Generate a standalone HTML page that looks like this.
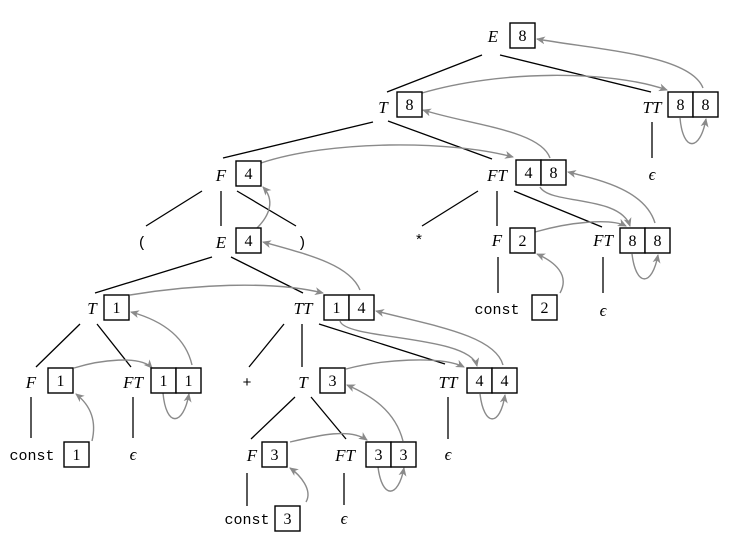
<!DOCTYPE html>
<html><head><meta charset="utf-8"><style>
html,body{margin:0;padding:0;background:#fff;}
svg{display:block;}
.l{font-family:"Liberation Serif",serif;font-style:italic;font-size:17px;text-anchor:middle;}
.n{font-family:"Liberation Serif",serif;font-size:16px;text-anchor:middle;}
.m{font-family:"Liberation Mono",monospace;font-size:15px;text-anchor:middle;}
.b{fill:#fff;stroke:#000;stroke-width:1.4;}
.t{stroke:#000;stroke-width:1.3;}
.a{fill:none;stroke:#8a8a8a;stroke-width:1.4;marker-end:url(#ah);}
</style></head><body>
<svg width="729" height="536" viewBox="0 0 729 536" xmlns="http://www.w3.org/2000/svg">
<defs><marker id="ah" markerWidth="10" markerHeight="8" refX="8" refY="4" orient="auto" markerUnits="userSpaceOnUse"><path d="M0,0 L9,4 L0,8 L2.5,4 Z" fill="#8a8a8a"/></marker></defs>
<g class="t">
<line x1="482" y1="55" x2="387" y2="92"/><line x1="500" y1="55" x2="651" y2="92"/>
<line x1="373" y1="122" x2="223" y2="158"/><line x1="388" y1="121" x2="492" y2="159"/>
<line x1="652" y1="122" x2="652" y2="158"/>
<line x1="478" y1="191" x2="422" y2="226"/><line x1="497" y1="191" x2="497" y2="226"/><line x1="514" y1="191" x2="602" y2="227"/>
<line x1="498" y1="257" x2="498" y2="293"/><line x1="603" y1="257" x2="603" y2="293"/>
<line x1="202" y1="191" x2="146" y2="226"/><line x1="221" y1="191" x2="221" y2="226"/><line x1="237" y1="191" x2="296" y2="226"/>
<line x1="212" y1="257" x2="95" y2="293"/><line x1="231" y1="257" x2="303" y2="293"/>
<line x1="80" y1="324" x2="36" y2="367"/><line x1="97" y1="324" x2="131" y2="367"/>
<line x1="284" y1="324" x2="249" y2="367"/><line x1="302" y1="324" x2="302" y2="367"/><line x1="319" y1="324" x2="445" y2="364"/>
<line x1="31" y1="397" x2="31" y2="438"/><line x1="133" y1="397" x2="133" y2="438"/>
<line x1="295" y1="397" x2="251" y2="439"/><line x1="311" y1="397" x2="346" y2="439"/>
<line x1="448" y1="397" x2="448" y2="439"/>
<line x1="247" y1="473" x2="247" y2="506"/><line x1="344" y1="473" x2="344" y2="505"/>
</g>
<g class="a">
<path d="M703,88 C690,55 600,50 537,39"/>
<path d="M422,93 C500,70 610,70 667,90"/>
<path d="M680,118 C683,152 700,152 706,119"/>
<path d="M550,158 C540,130 470,125 423,110"/>
<path d="M261,163 C330,140 450,140 513,157"/>
<path d="M540,187 C550,205 620,195 630,226"/>
<path d="M535,232 C570,222 610,218 626,226"/>
<path d="M655,223 C645,190 600,180 568,172"/>
<path d="M632,254 C636,287 652,287 658,255"/>
<path d="M560,293 C570,275 555,262 537,254"/>
<path d="M257,228 C270,215 275,200 263,187"/>
<path d="M360,290 C350,265 310,255 263,242"/>
<path d="M130,295 C190,285 270,280 323,293"/>
<path d="M74,368 C100,360 140,355 152,368"/>
<path d="M192,365 C185,335 160,320 131,312"/>
<path d="M163,393 C166,427 183,427 189,394"/>
<path d="M92,441 C97,420 90,405 76,394"/>
<path d="M340,321 C345,340 470,335 477,366"/>
<path d="M346,369 C380,360 440,355 464,367"/>
<path d="M503,365 C495,335 430,325 376,311"/>
<path d="M480,394 C484,427 500,427 505,395"/>
<path d="M403,441 C395,410 370,395 347,385"/>
<path d="M290,442 C320,435 350,428 367,440"/>
<path d="M378,467 C382,499 398,499 404,468"/>
<path d="M306,502 C313,490 300,475 290,468"/>
</g>
<g>
<rect class="b" x="510" y="23" width="25" height="25"/>
<rect class="b" x="397" y="92" width="25" height="25"/>
<rect class="b" x="668" y="92" width="25" height="25"/><rect class="b" x="693" y="92" width="25" height="25"/>
<rect class="b" x="516" y="160" width="25" height="25"/><rect class="b" x="541" y="160" width="25" height="25"/>
<rect class="b" x="510" y="228" width="25" height="25"/>
<rect class="b" x="620" y="228" width="25" height="25"/><rect class="b" x="645" y="228" width="25" height="25"/>
<rect class="b" x="532" y="295" width="25" height="25"/>
<rect class="b" x="236" y="161" width="25" height="25"/>
<rect class="b" x="236" y="228" width="25" height="25"/>
<rect class="b" x="104" y="295" width="25" height="25"/>
<rect class="b" x="324" y="295" width="25" height="25"/><rect class="b" x="349" y="295" width="25" height="25"/>
<rect class="b" x="48" y="368" width="25" height="25"/>
<rect class="b" x="151" y="368" width="25" height="25"/><rect class="b" x="176" y="368" width="25" height="25"/>
<rect class="b" x="320" y="368" width="25" height="25"/>
<rect class="b" x="467" y="368" width="25" height="25"/><rect class="b" x="492" y="368" width="25" height="25"/>
<rect class="b" x="64" y="442" width="25" height="25"/>
<rect class="b" x="262" y="442" width="25" height="25"/>
<rect class="b" x="366" y="442" width="25" height="25"/><rect class="b" x="391" y="442" width="25" height="25"/>
<rect class="b" x="275" y="506" width="25" height="25"/>
</g>
<g class="n">
<text x="522.5" y="41">8</text><text x="409.5" y="110">8</text>
<text x="680.5" y="110">8</text><text x="705.5" y="110">8</text>
<text x="528.5" y="178">4</text><text x="553.5" y="178">8</text>
<text x="522.5" y="246">2</text>
<text x="632.5" y="246">8</text><text x="657.5" y="246">8</text>
<text x="544.5" y="313">2</text>
<text x="248.5" y="179">4</text><text x="248.5" y="246">4</text>
<text x="116.5" y="313">1</text>
<text x="336.5" y="313">1</text><text x="361.5" y="313">4</text>
<text x="60.5" y="386">1</text>
<text x="163.5" y="386">1</text><text x="188.5" y="386">1</text>
<text x="332.5" y="386">3</text>
<text x="479.5" y="386">4</text><text x="504.5" y="386">4</text>
<text x="76.5" y="460">1</text>
<text x="274.5" y="460">3</text>
<text x="378.5" y="460">3</text><text x="403.5" y="460">3</text>
<text x="287.5" y="524">3</text>
</g>
<g class="l">
<text x="493" y="42">E</text><text x="383" y="113">T</text><text x="652" y="113">TT</text>
<text x="497" y="181">FT</text><text x="497" y="246">F</text><text x="603" y="246">FT</text>
<text x="221" y="181">F</text><text x="221" y="248">E</text>
<text x="92" y="314">T</text><text x="303" y="314">TT</text>
<text x="31" y="388">F</text><text x="133" y="388">FT</text><text x="303" y="388">T</text><text x="448" y="388">TT</text>
<text x="252" y="461">F</text><text x="345" y="461">FT</text>
<text x="652" y="180">ϵ</text><text x="603" y="316">ϵ</text><text x="133" y="460">ϵ</text>
<text x="448" y="460">ϵ</text><text x="344" y="524">ϵ</text>
</g>
<g class="m">
<text x="142" y="247">(</text><text x="302" y="247">)</text>
<text x="419" y="245">*</text><text x="247" y="387">+</text>
<text x="497" y="314">const</text><text x="32" y="460">const</text><text x="247" y="524">const</text>
</g>
</svg>
</body></html>
